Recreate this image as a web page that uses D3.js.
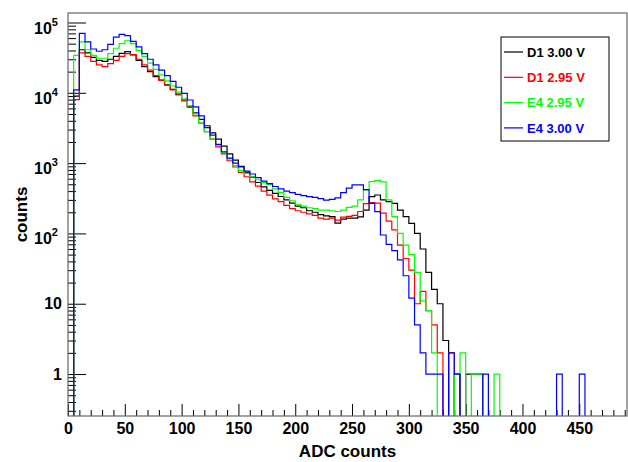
<!DOCTYPE html>
<html>
<head>
<meta charset="utf-8">
<script src="https://cdn.jsdelivr.net/npm/d3@7"></script>
<style>
  body { margin: 0; background: #fff; }
  svg text { font-family: "Liberation Sans", Arial, Helvetica, sans-serif; font-weight: bold; }
</style>
</head>
<body>
<div id="main"></div>
<script>
// histogram binning (ADC counts per bin)
var binWidth = 5;

var seriesNames = ["D1 3.00 V", "D1 2.95 V", "E4 2.95 V", "E4 3.00 V"];
var seriesColors = ["#000000", "#ff0000", "#00ff00", "#0000ff"];

// bin contents, bin i covers [5i, 5i+5)
var d1_300 = [0, 9000, 41000, 37000, 32000, 29000, 28000, 30000, 33000, 36500,
  38500, 34500, 29000, 23500, 20000, 17000, 15200, 13000, 11200, 9600,
  7900, 6400, 5200, 4200, 3400, 2700, 2200, 1750, 1350, 1100,
  900, 740, 630, 530, 460, 410, 370, 335, 300, 270,
  245, 232, 210, 200, 185, 178, 173, 140, 160, 165,
  165, 172, 215, 333, 352, 300, 283, 268, 215, 173,
  139, 100, 60, 28, 16, 10, 3, 0, 1, 0,
  1, 1, 1];
var d1_295 = [0, 8000, 37000, 33000, 28000, 25000, 23500, 26000, 29000, 33000,
  36000, 35000, 30000, 25000, 21000, 17500, 15000, 12800, 11000, 9300,
  7700, 6200, 4700, 3700, 2800, 2200, 1700, 1350, 1080, 880,
  740, 640, 540, 470, 400, 350, 310, 283, 250, 225,
  210, 200, 190, 180, 165, 160, 165, 155, 170, 175,
  180, 205, 265, 275, 270, 195, 150, 112, 68, 44,
  30, 10, 15, 8, 5, 2, 0, 2];
var e4_295 = [0, 34000, 53000, 41000, 34000, 31000, 31000, 36000, 43000, 50000,
  55000, 50000, 40000, 33000, 26500, 21500, 18000, 14800, 12500, 10200,
  8200, 6500, 5000, 3700, 2800, 2200, 1800, 1420, 1150, 920,
  790, 715, 640, 580, 530, 500, 430, 380, 325, 290,
  260, 245, 232, 225, 215, 215, 210, 205, 215, 235,
  245, 300, 415, 545, 565, 540, 300, 173, 100, 68,
  50, 28, 11, 8, 2, 0, 0, 0, 1, 2,
  0, 1, 1, 0, 0, 1];
var e4_300 = [0, 11000, 70000, 53000, 42000, 39000, 41000, 49000, 62000, 68000,
  65000, 54000, 45000, 36000, 30000, 25000, 21000, 17500, 14500, 12000,
  9800, 7900, 6300, 4700, 3200, 2500, 1850, 1450, 1180, 1000,
  880, 770, 700, 620, 555, 510, 465, 430, 400, 380,
  360, 345, 333, 325, 312, 298, 305, 320, 380, 440,
  490, 490, 420, 268, 204, 95, 70, 57, 42, 25,
  12, 5, 2, 1, 1, 1, 0, 2, 1, 0,
  0, 0, 0, 1, 0, 0, 0, 0, 0, 0,
  0, 0, 0, 0, 0, 0, 1, 0, 0, 0,
  1];
var seriesValues = [d1_300, d1_295, e4_295, e4_300];

var xMajor = [0, 50, 100, 150, 200, 250, 300, 350, 400, 450];
var yMajor = [1, 10, 100, 1000, 10000, 100000];
var xTitle = "ADC counts", yTitle = "counts";

var width = 628, height = 462;
var fLeft = 68, fRight = 627, fTop = 13, fBottom = 416;

var x = d3.scaleLinear().domain([0, 492]).range([fLeft, fRight]);
var y = d3.scaleLog().domain([0.253, 136500]).range([fBottom, fTop]);

var svg = d3.select("#main").append("svg")
  .attr("width", width)
  .attr("height", height);

svg.append("defs").append("clipPath").attr("id", "frame")
  .append("rect")
  .attr("x", fLeft).attr("y", fTop)
  .attr("width", fRight - fLeft).attr("height", fBottom - fTop);

// minor ticks
var xMinor = d3.range(0, 492, 10).filter(function (d) { return d % 50 != 0; });
var yMinor = [];
d3.range(-1, 6).forEach(function (e) {
  for (var k = 2; k <= 9; k++) {
    var v = k * Math.pow(10, e);
    if (v > y.domain()[0] && v < y.domain()[1]) yMinor.push(v);
  }
});

var gx = svg.append("g").attr("transform", "translate(0," + fBottom + ")");
gx.call(d3.axisBottom(x).tickValues(xMinor).tickSizeInner(-6).tickSizeOuter(0).tickFormat(""));
var gx2 = svg.append("g").attr("transform", "translate(0," + fBottom + ")");
gx2.call(d3.axisBottom(x).tickValues(xMajor).tickSizeInner(-12).tickSizeOuter(0).tickPadding(7));
gx2.selectAll("text").attr("font-size", 16).attr("fill", "#000")
  .attr("font-family", null);

var gy = svg.append("g").attr("transform", "translate(" + fLeft + ",0)");
gy.call(d3.axisLeft(y).tickValues(yMinor).tickSizeInner(-8).tickSizeOuter(0).tickFormat(""));
var gy2 = svg.append("g").attr("transform", "translate(" + fLeft + ",0)");
gy2.call(d3.axisLeft(y).tickValues(yMajor).tickSizeInner(-18).tickSizeOuter(0).tickFormat(""));

svg.selectAll(".domain").remove();
svg.selectAll(".tick line").attr("stroke", "#000").attr("stroke-width", 1);

// y labels: 1, 10 plain, higher decades as 10^n
yMajor.forEach(function (v) {
  var e = Math.round(Math.log10(v));
  if (e < 2) {
    svg.append("text")
      .attr("x", 62).attr("y", y(v))
      .attr("dy", "0.36em")
      .attr("text-anchor", "end")
      .attr("font-size", 16)
      .text(v);
  } else {
    var t = svg.append("text")
      .attr("x", 34).attr("y", y(v) + 11)
      .attr("font-size", 16)
      .text("10");
    t.append("tspan")
      .attr("font-size", 11)
      .attr("dy", -8)
      .text(e);
  }
});

// histograms
var line = d3.line().curve(d3.curveStepAfter);
var nBins = Math.ceil(x.domain()[1] / binWidth);

seriesValues.forEach(function (vals, s) {
  var pts = [];
  for (var i = 0; i <= nBins; i++) {
    var v = i < vals.length ? vals[i] : 0;
    var yy = v > 0 ? y(v) : fBottom + 10;
    pts.push([x(i * binWidth), yy]);
  }
  svg.append("path")
    .attr("clip-path", "url(#frame)")
    .attr("d", line(pts))
    .attr("fill", "none")
    .attr("stroke", seriesColors[s])
    .attr("stroke-width", 1.2);
});

// frame
svg.append("rect")
  .attr("x", fLeft).attr("y", fTop)
  .attr("width", fRight - fLeft).attr("height", fBottom - fTop)
  .attr("fill", "none")
  .attr("stroke", "#666")
  .attr("stroke-width", 1.2);

// axis titles
svg.append("text")
  .attr("x", (fLeft + fRight) / 2).attr("y", 457)
  .attr("text-anchor", "middle")
  .attr("font-size", 17)
  .text(xTitle);
svg.append("text")
  .attr("transform", "translate(27," + ((fTop + fBottom) / 2) + ") rotate(-90)")
  .attr("text-anchor", "middle")
  .attr("font-size", 17)
  .text(yTitle);

// legend
var lg = svg.append("g");
lg.append("rect")
  .attr("x", 501).attr("y", 37)
  .attr("width", 108).attr("height", 104)
  .attr("fill", "#fff")
  .attr("stroke", "#000")
  .attr("stroke-width", 1);
seriesNames.forEach(function (name, i) {
  var yy = 52 + i * 25.3;
  lg.append("line")
    .attr("x1", 504).attr("x2", 523)
    .attr("y1", yy).attr("y2", yy)
    .attr("stroke", seriesColors[i])
    .attr("stroke-width", 1.2);
  lg.append("text")
    .attr("x", 527).attr("y", yy)
    .attr("dy", "0.36em")
    .attr("font-size", 13)
    .attr("fill", seriesColors[i])
    .text(name);
});
</script>
</body>
</html>
